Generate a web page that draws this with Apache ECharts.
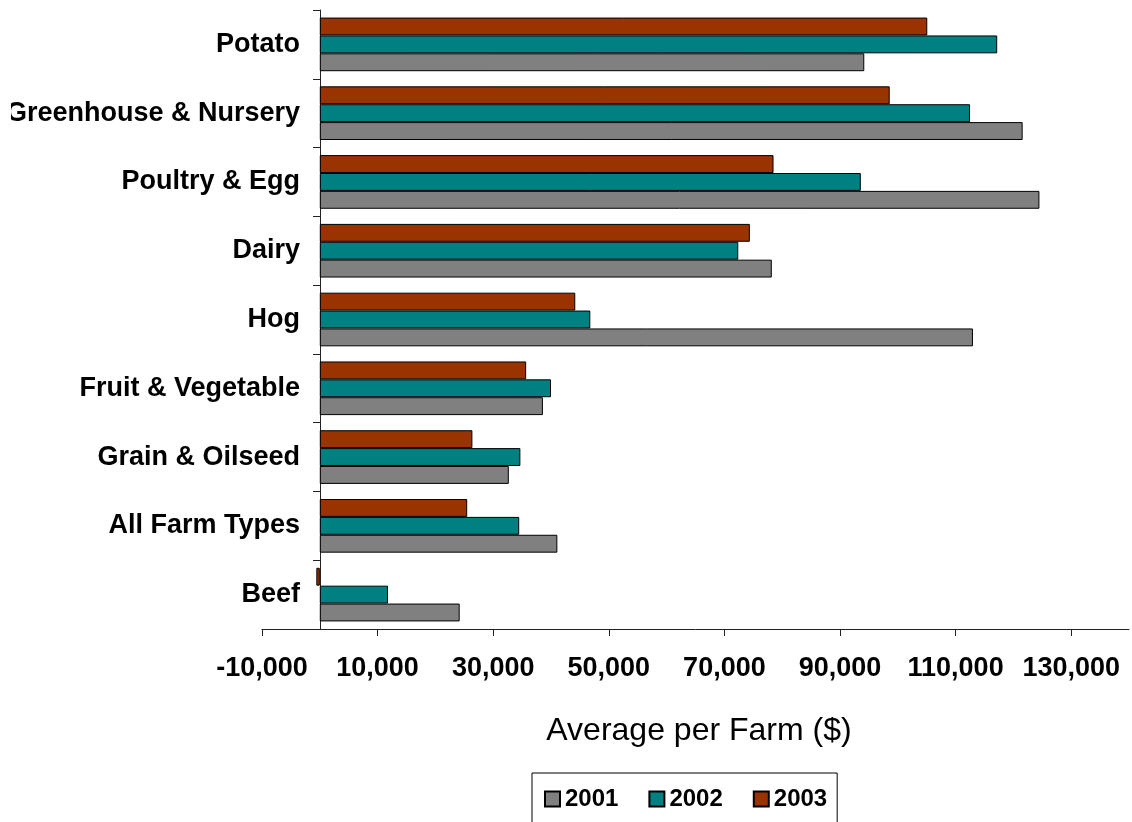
<!DOCTYPE html>
<html>
<head>
<meta charset="utf-8">
<title>Average per Farm by Farm Type</title>
<script src="https://cdn.jsdelivr.net/npm/echarts@6/dist/echarts.min.js"></script>
<style>
  html, body { margin: 0; padding: 0; background: #fff; }
  #chart { width: 1132px; height: 822px; }
</style>
</head>
<body>
<div id="chart"></div>
<script>
// Farm types, listed bottom to top as they appear on the category axis
const farmTypes = ['Beef', 'All Farm Types', 'Grain & Oilseed', 'Fruit & Vegetable', 'Hog',
  'Dairy', 'Poultry & Egg', 'Greenhouse & Nursery', 'Potato'];

// Average per farm ($) for each year, in the same order as farmTypes
const values2001 = [24200, 41100, 32700, 38600, 113000, 78200, 124500, 121600, 94200];
const values2002 = [11800, 34500, 34700, 40000, 46800, 72400, 93600, 112500, 117200];
const values2003 = [-600, 25500, 26400, 35700, 44200, 74400, 78500, 98600, 105100];

const years = ['2001', '2002', '2003'];
const yearColors = { '2001': '#808080', '2002': '#008080', '2003': '#993300' };

// x-axis range and step for the tick labels
const xMin = -10000;
const xMax = 140000;
const xStep = 20000;

const FONT = "'Liberation Sans', Arial, sans-serif";

const chart = echarts.init(document.getElementById('chart'), null, { renderer: 'canvas' });

function barSeries(name, data) {
  return {
    name: name,
    type: 'bar',
    data: data,
    barGap: '0%',
    barCategoryGap: '22%',
    itemStyle: { color: yearColors[name], borderColor: '#000', borderWidth: 1 },
    emphasis: { disabled: true }
  };
}

const gridLeft = 262;
const gridRight = 3;
const plotWidth = 1132 - gridLeft - gridRight;
// the category axis sits where the value axis reads zero
const zeroShift = Math.round(plotWidth * (0 - xMin) / (xMax - xMin));

chart.setOption({
  animation: false,
  backgroundColor: '#fff',
  grid: { left: gridLeft, right: gridRight, top: 10, bottom: 193, containLabel: false, outerBoundsMode: 'none' },
  xAxis: {
    type: 'value',
    min: xMin,
    max: xMax,
    interval: xStep,
    name: 'Average per Farm ($)',
    nameLocation: 'middle',
    nameGap: 86,
    nameTextStyle: { fontFamily: FONT, fontSize: 32, color: '#000', padding: [0, 0, 0, 7] },
    axisLine: { show: true, onZero: false, lineStyle: { color: '#222', width: 1 } },
    axisTick: { show: true, length: 7, lineStyle: { color: '#222' } },
    axisLabel: {
      margin: 26,
      showMaxLabel: false,
      fontFamily: FONT,
      fontSize: 27,
      fontWeight: 'bold',
      color: '#000',
      formatter: v => v.toLocaleString('en-US')
    },
    splitLine: { show: false }
  },
  yAxis: {
    type: 'category',
    data: farmTypes,
    offset: -zeroShift,
    axisLine: { show: true, onZero: false, lineStyle: { color: '#222', width: 1 } },
    axisTick: { show: true, length: 7, lineStyle: { color: '#222' } },
    axisLabel: {
      margin: 20,
      fontFamily: FONT,
      fontSize: 27,
      fontWeight: 'bold',
      color: '#000'
    },
    splitLine: { show: false }
  },
  legend: {
    data: years,
    left: 532,
    top: 773,
    orient: 'horizontal',
    icon: 'rect',
    itemWidth: 15,
    itemHeight: 15,
    itemGap: 30,
    padding: [14, 10, 14, 12],
    borderColor: '#000',
    borderWidth: 1,
    textStyle: { fontFamily: FONT, fontSize: 24, fontWeight: 'bold', color: '#000' },
    selectedMode: false
  },
  // 2003 drawn first so it sits at the top of each group
  series: [
    barSeries('2003', values2003),
    barSeries('2002', values2002),
    barSeries('2001', values2001)
  ],
  graphic: [
    // the long category label runs past the chart's left edge
    { type: 'rect', left: 0, top: 90, shape: { width: 11, height: 50 }, style: { fill: '#fff' }, z: 100 }
  ]
});
</script>
</body>
</html>
